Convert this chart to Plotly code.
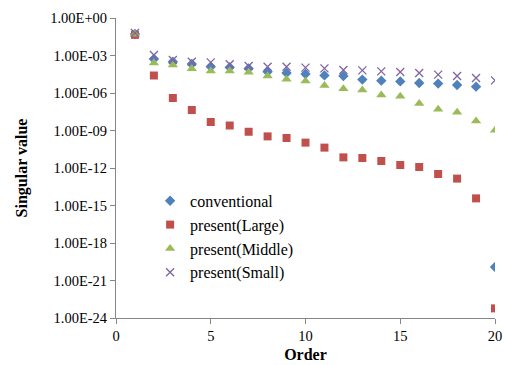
import plotly.graph_objects as go

order = list(range(1, 21))

# log10 of singular values
conventional_exp = [-1.28, -3.28, -3.50, -3.68, -3.90, -3.95, -4.03, -4.30, -4.40, -4.48,
                    -4.59, -4.64, -4.93, -5.01, -5.07, -5.20, -5.25, -5.36, -5.49, -19.92]
large_exp = [-1.35, -4.60, -6.40, -7.36, -8.32, -8.60, -9.10, -9.47, -9.60, -9.97,
             -10.37, -11.15, -11.20, -11.44, -11.76, -11.92, -12.48, -12.85, -14.43, -23.23]
middle_exp = [-1.30, -3.60, -3.76, -4.05, -4.24, -4.24, -4.35, -4.64, -4.90, -5.04,
              -5.39, -5.65, -5.76, -6.16, -6.27, -6.85, -7.31, -7.55, -8.24, -8.99]
small_exp = [-1.20, -2.96, -3.36, -3.50, -3.55, -3.70, -3.84, -3.90, -3.90, -3.97,
             -4.03, -4.16, -4.19, -4.27, -4.32, -4.40, -4.53, -4.64, -4.80, -4.99]

conventional = [10 ** e for e in conventional_exp]
large = [10 ** e for e in large_exp]
middle = [10 ** e for e in middle_exp]
small = [10 ** e for e in small_exp]

y_tick_exps = [0, -3, -6, -9, -12, -15, -18, -21, -24]
y_tick_labels = ["1.00E+00", "1.00E-03", "1.00E-06", "1.00E-09", "1.00E-12",
                 "1.00E-15", "1.00E-18", "1.00E-21", "1.00E-24"]
x_ticks = [0, 5, 10, 15, 20]

serif = "Liberation Serif"

fig = go.Figure()
fig.add_trace(go.Scatter(x=order, y=conventional, mode="markers", name="conventional",
                         marker=dict(symbol="diamond", size=8, color="#4F81BD")))
fig.add_trace(go.Scatter(x=order, y=large, mode="markers", name="present(Large)",
                         marker=dict(symbol="square", size=8, color="#C0504D")))
fig.add_trace(go.Scatter(x=order, y=middle, mode="markers", name="present(Middle)",
                         marker=dict(symbol="triangle-up", size=9, color="#9BBB59")))
fig.add_trace(go.Scatter(x=order, y=small, mode="markers", name="present(Small)",
                         marker=dict(symbol="x-thin", size=8, color="#8064A2",
                                     line=dict(color="#8064A2", width=1.3))))

axis_common = dict(showgrid=False, zeroline=False, showline=True, linecolor="#868686",
                   linewidth=1, ticks="outside", tickcolor="#868686", ticklen=5,
                   automargin=False,
                   tickfont=dict(family=serif, size=14.5, color="#000000"))

fig.update_layout(
    width=507, height=365,
    font=dict(family=serif, color="#000000"),
    margin=dict(l=116, r=12, t=18, b=47),
    paper_bgcolor="white", plot_bgcolor="white",
    xaxis=dict(range=[0, 20], tickvals=x_ticks,
               title=dict(text="<b>Order</b>", font=dict(family=serif, size=16, color="#000"),
                          standoff=5),
               **axis_common),
    yaxis=dict(type="log", range=[-24, 0], tickvals=[10 ** e for e in y_tick_exps],
               ticktext=y_tick_labels,
               title=dict(text="<b>Singular value</b>", font=dict(family=serif, size=16, color="#000"),
                          standoff=18),
               **axis_common),
    legend=dict(x=0.09, y=0.447, xanchor="left", yanchor="top",
                font=dict(family=serif, size=16, color="#000"),
                bgcolor="rgba(0,0,0,0)", itemwidth=30),
    showlegend=True,
)

fig.write_html("out.html", config={"displayModeBar": False},
               post_script="document.body.style.margin='0';")
